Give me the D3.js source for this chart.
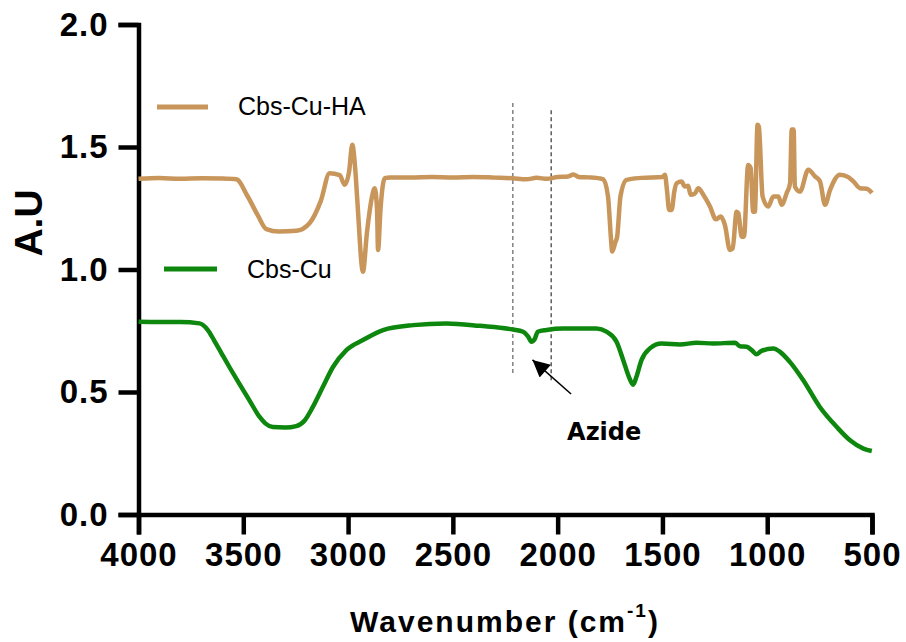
<!DOCTYPE html>
<html>
<head>
<meta charset="utf-8">
<script src="https://cdn.jsdelivr.net/npm/d3@7"></script>
<style>
  body { margin: 0; background: #fff; }
  svg text { font-family: "Liberation Sans", Arial, sans-serif; }
</style>
</head>
<body>
<svg id="chart" width="906" height="642"></svg>
<script>
// Spectra: [wavenumber (cm-1), A.U]
var cbsCuHA = [
  [4000,1.370],[3900,1.373],[3800,1.370],[3700,1.372],[3600,1.371],[3533,1.368],
  [3480,1.30],[3430,1.22],[3390,1.165],[3330,1.155],[3247,1.158],[3183,1.19],
  [3130,1.28],[3088,1.393],[3040,1.385],[3016,1.346],[2995,1.40],[2980,1.509],
  [2965,1.40],[2955,1.27],[2929,0.991],[2910,1.15],[2885,1.30],[2873,1.332],
  [2862,1.25],[2857,1.08],[2845,1.25],[2825,1.373],[2800,1.376],[2700,1.376],
  [2600,1.378],[2500,1.376],[2400,1.378],[2300,1.375],[2214,1.372],[2150,1.368],
  [2100,1.374],[2050,1.370],[2000,1.378],[1950,1.380],[1925,1.388],[1900,1.378],
  [1850,1.376],[1800,1.372],[1783,1.368],[1760,1.30],[1745,1.12],[1740,1.073],
  [1725,1.11],[1716,1.134],[1700,1.30],[1671,1.366],[1600,1.374],[1500,1.378],
  [1488,1.387],[1478,1.32],[1468,1.243],[1456,1.243],[1443,1.32],[1432,1.352],
  [1409,1.359],[1393,1.339],[1377,1.342],[1366,1.305],[1345,1.31],[1329,1.332],
  [1305,1.305],[1273,1.257],[1245,1.205],[1222,1.216],[1202,1.182],[1178,1.08],
  [1165,1.085],[1146,1.236],[1138,1.23],[1122,1.134],[1111,1.134],[1091,1.427],
  [1079,1.414],[1067,1.236],[1059,1.236],[1046,1.591],[1040,1.584],[1022,1.298],
  [995,1.257],[971,1.298],[947,1.298],[931,1.264],[907,1.312],[891,1.352],
  [883,1.571],[874,1.571],[868,1.339],[844,1.318],[804,1.407],[772,1.38],
  [748,1.359],[724,1.264],[700,1.325],[653,1.387],[613,1.377],[589,1.36],
  [557,1.332],[525,1.33],[500,1.312]
];
var cbsCu = [
  [4000,0.787],[3900,0.786],[3800,0.786],[3709,0.780],[3669,0.753],[3640,0.712],
  [3600,0.652],[3565,0.600],[3520,0.535],[3470,0.465],[3422,0.398],[3395,0.372],
  [3359,0.357],[3300,0.355],[3247,0.361],[3207,0.384],[3168,0.439],[3120,0.521],
  [3072,0.602],[3008,0.671],[2929,0.712],[2833,0.753],[2690,0.773],[2531,0.780],
  [2372,0.770],[2214,0.755],[2165,0.746],[2140,0.725],[2125,0.705],[2110,0.715],
  [2095,0.746],[2053,0.753],[1974,0.759],[1814,0.759],[1767,0.746],[1719,0.705],
  [1687,0.63],[1660,0.562],[1640,0.530],[1624,0.562],[1600,0.63],[1560,0.678],
  [1504,0.698],[1417,0.694],[1337,0.701],[1258,0.698],[1154,0.701],[1130,0.687],
  [1098,0.685],[1074,0.671],[1050,0.654],[1027,0.668],[971,0.678],[939,0.664],
  [892,0.623],[828,0.548],[749,0.439],[668,0.357],[605,0.303],[541,0.269],[501,0.259]
];
var xTicks = [4000, 3500, 3000, 2500, 2000, 1500, 1000, 500];
var yTicks = [0, 0.5, 1.0, 1.5, 2.0];
var seriesNames = ["Cbs-Cu-HA", "Cbs-Cu"];
// dashed guide lines around the azide band: [wavenumber, y from, y to]
var guides = [[2214, 0.57, 1.68], [2031, 0.54, 1.65]];
// arrow: tail -> tip, and the label
var arrowFrom = [1936, 0.492], arrowTo = [2120, 0.631];
var azideLabel = [1955, 0.304, "Azide"];

var tan = "#C8965A", green = "#0E870E";

var svg = d3.select("#chart");
var x = d3.scaleLinear().domain([4000, 500]).range([138.5, 872]);
var y = d3.scaleLinear().domain([0, 2]).range([514.5, 24.5]);

// Axes
var xAxis = d3.axisBottom(x).tickValues(xTicks).tickSize(20).tickPadding(8)
  .tickFormat(d3.format("d"));
var yAxis = d3.axisLeft(y).tickValues(yTicks).tickSize(20).tickPadding(8)
  .tickFormat(d3.format(".1f"));

var gx = svg.append("g").attr("transform", "translate(0," + y(0) + ")").call(xAxis);
var gy = svg.append("g").attr("transform", "translate(" + x(4000) + ",0)").call(yAxis);
[gx, gy].forEach(function(g) {
  g.select(".domain").attr("stroke", "#000").attr("stroke-width", 4.5);
  g.selectAll(".tick line").attr("stroke", "#000").attr("stroke-width", 4.5);
  g.selectAll(".tick text").attr("fill", "#000")
    .style("font-family", "'Liberation Sans', Arial, sans-serif")
    .style("font-weight", "bold").style("font-size", "33px")
    .style("letter-spacing", "1px");
});
gx.selectAll(".tick text").attr("dy", "0.7em");
gy.selectAll(".tick text").attr("dx", "-2");

// axis titles
svg.append("text")
  .attr("transform", "translate(42,223) rotate(-90)")
  .attr("text-anchor", "middle")
  .style("font-weight", "bold").style("font-size", "39px")
  .text("A.U");

var xt = svg.append("text")
  .attr("x", 505).attr("y", 632)
  .attr("text-anchor", "middle")
  .style("font-weight", "bold").style("font-size", "30px")
  .style("letter-spacing", "2px");
xt.append("tspan").text("Wavenumber (cm");
xt.append("tspan").attr("dy", -15).style("font-size", "19px").text("-1");
xt.append("tspan").attr("dy", 15).text(")");

// guide lines
svg.selectAll(".guide").data(guides).enter().append("line")
  .attr("class", "guide")
  .attr("x1", function(d) { return x(d[0]); }).attr("x2", function(d) { return x(d[0]); })
  .attr("y1", function(d) { return y(d[2]); }).attr("y2", function(d) { return y(d[1]); })
  .attr("stroke", function(d, i) { return i == 0 ? "#888" : "#222"; })
  .attr("stroke-width", function(d, i) { return i == 0 ? 1.6 : 1.1; })
  .attr("stroke-dasharray", "4,3");

// spectra
var line = d3.line().curve(d3.curveMonotoneX)
  .x(function(d) { return x(d[0]); })
  .y(function(d) { return y(d[1]); });
svg.append("path").datum(cbsCuHA).attr("d", line)
  .attr("fill", "none").attr("stroke", tan).attr("stroke-width", 4.5)
  .attr("stroke-linejoin", "round");
svg.append("path").datum(cbsCu).attr("d", line)
  .attr("fill", "none").attr("stroke", green).attr("stroke-width", 4.5)
  .attr("stroke-linejoin", "round");

// legend
var legend = [
  { name: seriesNames[0], color: tan, x1: 157, x2: 208, ly: 107, tx: 238, ty: 115 },
  { name: seriesNames[1], color: green, x1: 164, x2: 217, ly: 269, tx: 247, ty: 278 }
];
legend.forEach(function(l) {
  svg.append("line").attr("x1", l.x1).attr("x2", l.x2).attr("y1", l.ly).attr("y2", l.ly)
    .attr("stroke", l.color).attr("stroke-width", 5);
  svg.append("text").attr("x", l.tx).attr("y", l.ty)
    .style("font-size", "25px").text(l.name);
});

// arrow annotation
svg.append("defs").append("marker")
  .attr("id", "head").attr("viewBox", "0 0 10 10")
  .attr("refX", 10).attr("refY", 5)
  .attr("markerWidth", 20).attr("markerHeight", 17)
  .attr("markerUnits", "userSpaceOnUse")
  .attr("orient", "auto")
  .append("path").attr("d", "M0,0L10,5L0,10Z").attr("fill", "#000");
svg.append("line")
  .attr("x1", x(arrowFrom[0])).attr("y1", y(arrowFrom[1]))
  .attr("x2", x(arrowTo[0])).attr("y2", y(arrowTo[1]))
  .attr("stroke", "#000").attr("stroke-width", 1.5)
  .attr("marker-end", "url(#head)");
svg.append("text")
  .attr("x", x(azideLabel[0])).attr("y", y(azideLabel[1]))
  .style("font-family", "'DejaVu Sans', sans-serif")
  .style("font-weight", "bold").style("font-size", "24px")
  .text(azideLabel[2]);
</script>
</body>
</html>
